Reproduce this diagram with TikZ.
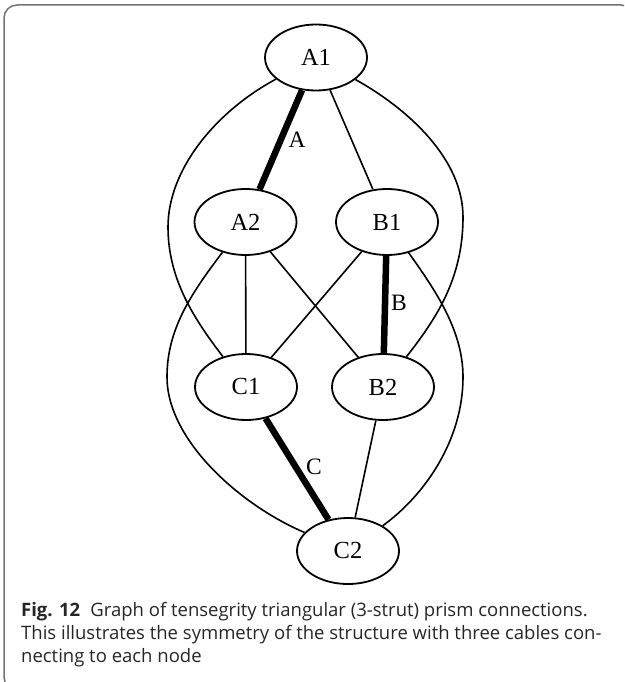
\documentclass[tikz,border=0pt]{standalone}
\usepackage{fontspec}
\setmainfont{Liberation Serif}
\newfontfamily\capfont{Open Sans}
\usetikzlibrary{shapes.geometric}
\begin{document}
\begin{tikzpicture}[x=1pt,y=-1pt,
  vnode/.style={draw,ellipse,line width=1.8pt,minimum width=102pt,minimum height=66pt,inner sep=0pt,font=\fontsize{24.5}{24.5}\selectfont},
  cable/.style={line width=1.6pt},
  strut/.style={line width=6.5pt},
  elabel/.style={font=\fontsize{23.5}{23.5}\selectfont,inner sep=0pt},
  frame/.style={draw=black!55,line width=1.5pt,rounded corners=13pt},
  captext/.style={anchor=base west,inner sep=0pt,font=\capfont\fontsize{18.5}{18.5}\selectfont,text=black!85}]
\useasboundingbox (0,0) rectangle (624,682);
\begin{scope}
\clip (0,0) rectangle (624,682);
\draw[frame] (17,690) -- (4,690) -- (4,5) -- (634,5) -- (634,40);
\end{scope}
\node[vnode] (A1) at (316,57.5) {A1};
\node[vnode] (A2) at (245.5,222) {A2};
\node[vnode] (B1) at (387,222) {B1};
\node[vnode] (C1) at (246,387) {C1};
\node[vnode] (B2) at (383,387) {B2};
\node[vnode] (C2) at (348,551) {C2};
\draw[strut] (A1) -- (A2);
\draw[strut] (B1) -- (B2);
\draw[strut] (C1) -- (C2);
\draw[cable] (A1) -- (B1);
\draw[cable] (A2) -- (C1);
\draw[cable] (A2) -- (B2);
\draw[cable] (B1) -- (C1);
\draw[cable] (B2) -- (C2);
\draw[cable] (A1) .. controls (215,112) and (168,170) .. (168,227)
                  .. controls (168,280) and (195,320) .. (C1);
\draw[cable] (A2) .. controls (190,295) and (167,330) .. (167,377)
                  .. controls (167,440) and (240,505) .. (C2);
\draw[cable] (A1) .. controls (410,110) and (463,160) .. (463,217)
                  .. controls (463,280) and (435,320) .. (B2);
\draw[cable] (B1) .. controls (435,290) and (463,330) .. (463,377)
                  .. controls (463,440) and (425,495) .. (C2);
\node[elabel] (la) at (297,140) {A};
\node[elabel] (lb) at (399,303) {B};
\node[elabel] (lc) at (314,467) {C};
\node[captext] (cap1) at (21,616) {\textbf{Fig. 12}\hspace{0.55em}Graph of tensegrity triangular (3-strut) prism connections.};
\node[captext] (cap2) at (21,639) {This illustrates the symmetry of the structure with three cables con-};
\node[captext] (cap3) at (21,662) {necting to each node};
\end{tikzpicture}
\end{document}
